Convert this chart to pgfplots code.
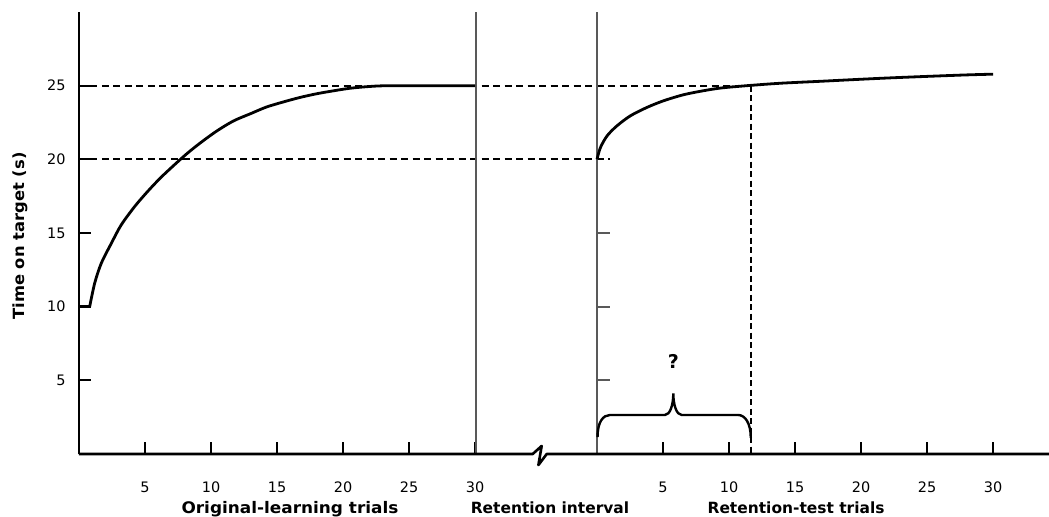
\documentclass[border=0pt]{standalone}
\usepackage{fontspec}
\setmainfont{DejaVu Sans}
\newfontfamily\labfont{DejaVu Sans}[FakeStretch=1.06]
\usepackage{pgfplots}
\usepackage{pgfplotstable}
\pgfplotsset{compat=1.18}

% trials of original learning (x = trial, y = seconds)
\pgfplotstableread{
t y
0.81 10.0
1.19 11.6
1.69 12.95
2.45 14.3
3.2 15.55
4.22 16.8
5.23 17.85
6.24 18.8
7.5 19.85
8.26 20.45
9.17 21.1
10.4 21.9
11.69 22.6
13.0 23.1
14.2 23.55
15.5 23.9
16.74 24.2
18.0 24.45
19.27 24.65
20.5 24.82
21.8 24.93
23.0 24.99
25.0 25.0
30.0 25.0
}\learning

% retention-test trials
\pgfplotstableread{
t y
0.0 20.0
0.26 20.8
0.77 21.6
1.52 22.28
2.54 22.96
3.8 23.53
5.06 23.98
6.58 24.39
8.09 24.66
9.48 24.85
11.65 25.02
14.0 25.17
17.0 25.3
19.2 25.4
22.0 25.52
25.0 25.63
28.0 25.73
30.0 25.78
}\retest

\def\off{39.24}
\definecolor{axgray}{gray}{0.35}

\begin{document}
\begin{tikzpicture}
\begin{axis}[
    at={(0,0)}, anchor=south west,
    scale only axis,
    width=970bp, height=442bp,
    xmin=0, xmax=73.48, ymin=0, ymax=30,
    clip=false,
    axis lines=left,
    y axis line style={-, line width=2.6bp},
    x axis line style={draw=none},
    tick align=inside,
    major tick length=12bp,
    tick style={black, line width=1.8bp},
    xtick={5,10,15,20,25,30,44.24,49.24,54.24,59.24,64.24,69.24},
    xticklabels={5,10,15,20,25,30,5,10,15,20,25,30},
    ytick={5,10,15,20,25},
    yticklabels={5,10,15,20,25},
    ticklabel style={font=\fontsize{14.5}{16}\selectfont},
    xticklabel style={anchor=base, yshift=-38bp},
    yticklabel style={xshift=-10bp},
    ylabel={Time on target (s)},
    every axis y label/.style={at={(axis description cs:-0.0608,0.493)}, rotate=90, anchor=center,
        font=\labfont\bfseries\fontsize{15.5}{17}\selectfont},
]
% reference lines
\addplot[black, line width=2bp, dash pattern=on 7bp off 4.5bp] coordinates {(0,25) (50.89,25)};
\addplot[black, line width=2bp, dash pattern=on 7bp off 4.5bp] coordinates {(0,20) (40.2,20)};
\addplot[black, line width=2.2bp, dash pattern=on 6bp off 3.5bp] coordinates {(50.89,25) (50.89,0)};
% panel separators
\addplot[axgray, line width=1.6bp] coordinates {(30.08,0) (30.08,30)};
\addplot[axgray, line width=1.6bp] coordinates {(\off,0) (\off,30)};
% learning curves
\addplot[black, line width=2.8bp] coordinates {(0.1,10) (0.81,10)};
\addplot[black, line width=2.8bp, smooth] table[x=t, y=y] {\learning};
\addplot[black, line width=2.8bp, smooth] table[x expr=\thisrow{t}+\off, y=y] {\retest};
% ticks of the second panel
\foreach \v in {5,10,15} {
  \edef\temp{\noexpand\draw[axgray, line width=1.8bp] (axis cs:\off,\v) -- (axis cs:40.2,\v);}
  \temp
}
% x axis with break
\draw[black, line width=2.6bp, line join=round]
  (axis cs:0,0) -- (axis cs:34.37,0) -- (axis cs:35.05,0.55) -- (axis cs:34.80,-0.75)
  -- (axis cs:35.43,0) -- (axis cs:73.48,0);
% brace over the relearning trials
\draw[black, line width=2.4bp]
  (axis cs:39.28,1.15) .. controls (axis cs:39.28,2.17) and (axis cs:39.7,2.65) .. (axis cs:40.23,2.65)
  -- (axis cs:44.39,2.65) .. controls (axis cs:44.77,2.65) and (axis cs:45.02,3.33) .. (axis cs:45.02,4.12)
  .. controls (axis cs:45.02,3.33) and (axis cs:45.27,2.65) .. (axis cs:45.65,2.65)
  -- (axis cs:49.92,2.65) .. controls (axis cs:50.45,2.65) and (axis cs:50.89,2.10) .. (axis cs:50.89,1.09);
\node[font=\bfseries\fontsize{19}{21}\selectfont] at (axis cs:45.02,6.27) {?};
% axis titles
\node[anchor=base, font=\labfont\bfseries\fontsize{16}{18}\selectfont] at (axis cs:15.98,-4.05) {Original-learning trials};
\node[anchor=base, font=\bfseries\fontsize{15.5}{18}\selectfont] at (axis cs:35.68,-4.05) {Retention interval};
\node[anchor=base, font=\bfseries\fontsize{15.5}{18}\selectfont] at (axis cs:54.32,-4.05) {Retention-test trials};
\end{axis}
\pgfresetboundingbox
\path[use as bounding box] (-79bp,-63bp) rectangle (970bp,454bp);
\end{tikzpicture}
\end{document}
